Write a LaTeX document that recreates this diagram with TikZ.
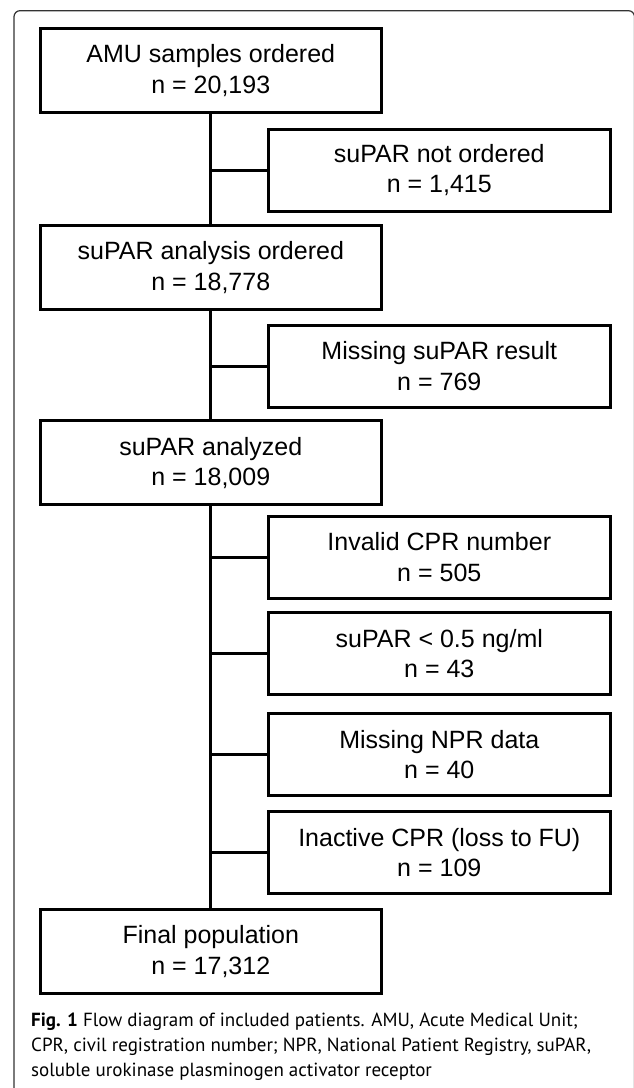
\documentclass[tikz,border=0pt]{standalone}
\usepackage{fontspec}
\setmainfont{Liberation Sans}
\newfontfamily\capfont{PT Sans}
\usetikzlibrary{positioning, calc}

\begin{document}
\begin{tikzpicture}[x=1pt, y=-1pt,
  mainbox/.style={draw, line width=3pt, minimum width=341pt, minimum height=84pt,
    inner sep=0pt, align=center, font=\fontsize{25}{30.7}\selectfont},
  exclbox/.style={mainbox, minimum width=342pt, minimum height=82pt},
  link/.style={line width=3pt},
  capline/.style={anchor=base west, inner sep=0pt, font=\capfont\fontsize{19}{24}\selectfont}]
\useasboundingbox (0,0) rectangle (633,1088);
% frame round the figure
\draw[line width=1.2pt, black!80, rounded corners=6pt] (14,1100) -- (14,10.7) -- (634.5,10.7) -- (634.5,1100);
% main column
\node[mainbox] (amu) at (210.8,70.5) {AMU samples ordered\\n = 20,193};
\node[mainbox] (ordered) at (210.8,267.7) {suPAR analysis ordered\\n = 18,778};
\node[mainbox] (analyzed) at (210.8,462.9) {suPAR analyzed\\n = 18,009};
\node[mainbox] (final) at (210.8,951.5) {Final population\\n = 17,312};
% excluded
\node[exclbox] (notord) at (439.3,170) {suPAR not ordered\\n = 1,415};
\node[exclbox] (noresult) at (439.3,366) {Missing suPAR result\\n = 769};
\node[exclbox] (cpr) at (439.3,557.2) {Invalid CPR number\\n = 505};
\node[exclbox] (low) at (439.3,653.7) {suPAR < 0.5 ng/ml\\n = 43};
\node[exclbox] (npr) at (439.3,754.7) {Missing NPR data\\n = 40};
\node[exclbox] (inactive) at (439.3,852.5) {Inactive CPR (loss to FU)\\n = 109};
% trunk
\draw[link] (amu) -- (ordered);
\draw[link] (ordered) -- (analyzed);
\draw[link] (analyzed) -- (final);
% branches
\foreach \ex in {notord, noresult, cpr, low, npr, inactive} {
  \coordinate (b-\ex) at (amu |- \ex);
  \draw[link] (b-\ex) -- (\ex.west);
}
% caption
\node[capline] (cap1) at (31,1026) {\textbf{Fig. 1} Flow diagram of included patients. AMU, Acute Medical Unit;};
\node[capline] (cap2) at (31,1051) {CPR, civil registration number; NPR, National Patient Registry, suPAR,};
\node[capline] (cap3) at (31,1076) {soluble urokinase plasminogen activator receptor};
\end{tikzpicture}
\end{document}
